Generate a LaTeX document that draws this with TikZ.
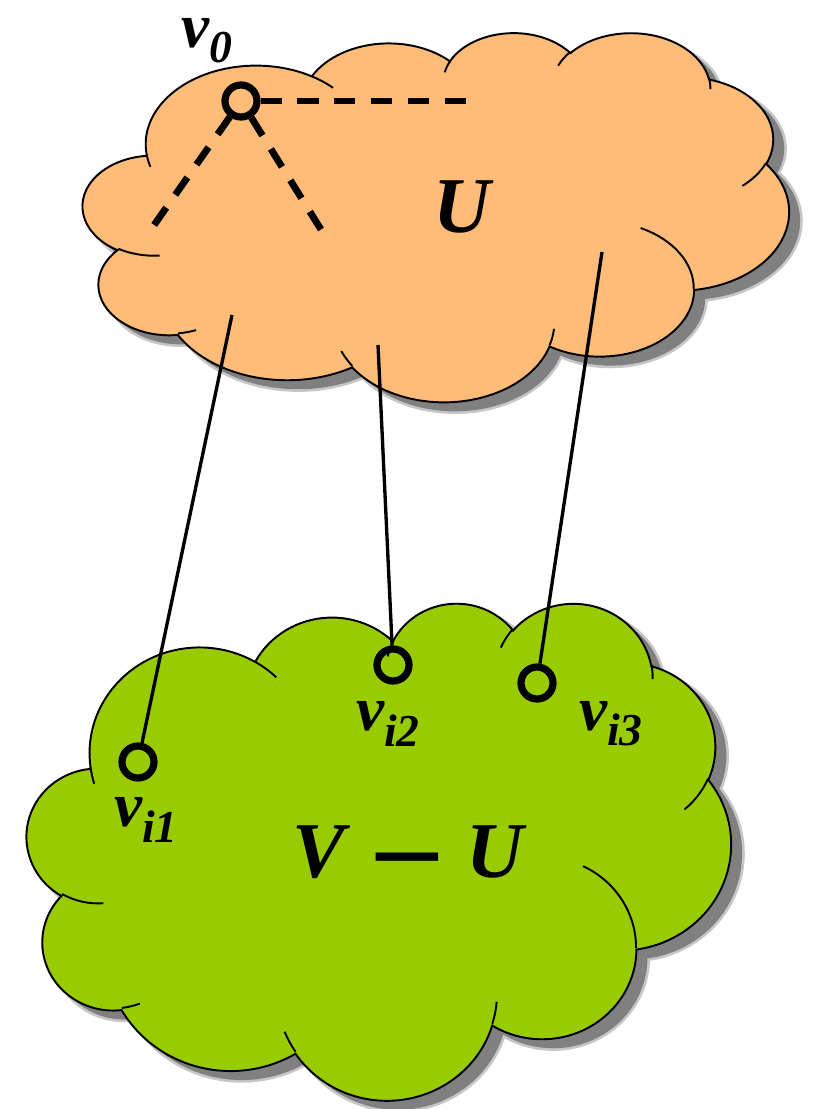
\documentclass[tikz,border=0pt]{standalone}
\usepackage{fontspec}
\setmainfont{Liberation Serif}
\usepackage{graphicx}
\usepackage{xcolor}
\definecolor{cloudorange}{HTML}{FFBB78}
\definecolor{cloudgreen}{HTML}{99CC00}
\definecolor{cloudshade}{HTML}{808080}

% parametric angle of an ellipse point given its visual angle
\pgfmathdeclarefunction{pang}{3}{%
  \pgfmathparse{#1+atan(((#2-#3)*sin(#1)*cos(#1))/(#3*cos(#1)^2+#2*sin(#1)^2))}}
\newcommand\parc[4]{arc[start angle={pang(-(#3),#1,#2)}, end angle={pang(-(#3)-(#4),#1,#2)}, x radius=#1, y radius=#2]}

% cloud outline in a 432 x 432 box
\newcommand\cloudline{(39.00,288.30)
  \parc{67.53}{91.90}{-190.4875}{123.7805}
  \parc{53.33}{72.67}{-144.1024}{89.9452}
  \parc{43.65}{59.45}{-145.8079}{99.7230}
  \parc{48.57}{65.95}{-130.9861}{117.2417}
  \parc{53.33}{72.73}{-78.7089}{109.0269}
  \parc{67.75}{92.20}{-46.2673}{130.2690}
  \parc{57.85}{78.67}{0.6250}{114.0333}
  \parc{67.52}{92.15}{22.4516}{115.1726}
  \parc{77.20}{105.43}{66.2426}{75.7110}
  \parc{43.60}{59.18}{-274.9421}{146.7356}
  \parc{43.45}{59.45}{-246.8285}{152.5189} -- cycle}
\newcommand\cloudcreases{
  (46.93,170.23) \parc{43.45}{59.45}{86.7420}{26.4295}
  (69.28,83.01) \parc{43.60}{59.18}{73.6105}{11.4475}
  (164.78,41.10) \parc{67.52}{92.15}{137.6242}{14.0811}
  (288.27,84.49) \parc{67.52}{92.15}{6.4533}{15.9984}
  (341.29,202.46) \parc{57.85}{78.67}{-70.2924}{70.9174}
  (417.98,278.46) \parc{53.33}{72.73}{30.3180}{27.7515}
  (383.24,377.74) \parc{48.57}{65.95}{-13.7443}{14.8589}
  (290.78,392.48) \parc{48.57}{65.95}{-149.1815}{18.1954}
  (221.41,384.80) \parc{43.65}{59.45}{-163.4943}{17.6864}
  (140.00,380.08) \parc{67.53}{91.90}{-66.7070}{12.3194}
  (41.27,274.11) \parc{67.53}{91.90}{157.6544}{11.8539}}

\newcommand\vname[1]{v\raisebox{-0.24em}{\fontsize{26}{26}\selectfont #1}}

\begin{document}
\begin{tikzpicture}[x=0.02cm, y=-0.02cm,
  edge/.style={draw=black, line width=1.1pt},
  shade/.style={fill=cloudshade, draw=cloudshade, draw opacity=0.45, line width=3pt},
  dot/.style={circle, draw=black, line width=4.1pt, minimum size=0.64cm, inner sep=0pt},
  tree/.style={black, line width=3.9pt, dash pattern=on 12pt off 9pt},
  link/.style={black, line width=1.9pt},
  lab/.style={font=\fontsize{36}{40}\selectfont\bfseries\itshape, inner sep=0pt},
  big/.style={font=\fontsize{45}{48}\selectfont\bfseries\itshape, inner sep=0pt}]
\useasboundingbox (0,0) rectangle (814,1109);

% set U
\begin{scope}[shift={(94,410)}, x=0.032685cm, y=0.017083cm]
  \filldraw[shade] \cloudline;
\end{scope}
\begin{scope}[shift={(83,401)}, x=0.032685cm, y=0.017083cm]
  \filldraw[fill=cloudorange, edge] \cloudline;
  \draw[edge] \cloudcreases;
\end{scope}

% set V-U
\begin{scope}[shift={(38,1108)}, x=0.032593cm, y=0.023009cm]
  \filldraw[shade] \cloudline;
\end{scope}
\begin{scope}[shift={(27,1099)}, x=0.032593cm, y=0.023009cm]
  \filldraw[fill=cloudgreen, edge] \cloudline;
  \draw[edge] \cloudcreases;
\end{scope}

\node[big] (setU) at (462,207) {U};
\node[big] (setVU) at (408,861) {V \raisebox{-0.25em}{\scalebox{1.7}[1.5]{−}} U};

\node[dot] (v0) at (241,101) {};
\node[dot] (vi1) at (138,762) {};
\node[dot] (vi2) at (393,665) {};
\node[dot] (vi3) at (537,683) {};

\node[lab] (l0) at (207,41) {\vname{0}};
\node[lab] (l1) at (146,820) {\vname{i1}};
\node[lab] (l2) at (388,724) {\vname{i2}};
\node[lab] (l3) at (611,724) {\vname{i3}};

\coordinate (t1) at (470,101);
\coordinate (t2) at (152,228);
\coordinate (t3) at (325,236);
\draw[tree] (v0) -- (t1);
\draw[tree] (v0) -- (t2);
\draw[tree] (v0) -- (t3);

\coordinate (u1) at (232,315);
\coordinate (u2) at (378,345);
\coordinate (u3) at (602,252);
\draw[link] (u1) -- (vi1);
\draw[link] (u2) -- (vi2);
\draw[link] (u3) -- (vi3);
\end{tikzpicture}
\end{document}
